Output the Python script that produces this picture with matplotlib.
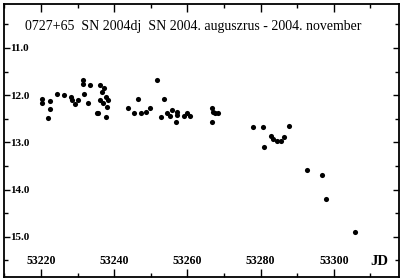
import matplotlib
matplotlib.use('Agg')
import matplotlib.pyplot as plt
from matplotlib.ticker import MultipleLocator, FormatStrFormatter

# Light curve of SN 2004dj
jd = [53220.3, 53220.3, 53222.5, 53222.5, 53221.8, 53224.5, 53226.3,
      53228.2, 53228.5, 53229.3, 53230.1, 53231.5, 53231.5, 53233.4,
      53231.7, 53232.8, 53235.2, 53236.1,
      53236.7, 53237.8, 53236.1, 53238.3, 53236.9, 53238.0, 53235.6,
      53237.8, 53237.2,
      53243.7, 53245.5, 53246.6, 53247.3, 53248.6, 53249.8, 53251.8,
      53253.7, 53252.7, 53254.3, 53255.7, 53255.2, 53257.1, 53257.1,
      53256.9, 53259.2, 53260.0, 53260.7,
      53266.8, 53267.0, 53267.5, 53268.4, 53266.8,
      53277.8, 53280.7, 53287.8, 53280.9, 53282.8, 53283.3, 53284.4,
      53285.5, 53286.4,
      53292.8, 53296.7, 53297.9, 53305.8]
mag = [12.08, 12.16, 12.12, 12.29, 12.48, 11.97, 11.99,
       12.04, 12.10, 12.18, 12.10, 11.68, 11.76, 11.78,
       11.97, 12.16, 12.37, 11.78,
       11.93, 12.04, 12.10, 12.10, 12.16, 12.25, 12.37,
       12.46, 11.85,
       12.27, 12.37, 12.08, 12.37, 12.35, 12.27, 11.68,
       12.08, 12.47, 12.37, 12.31, 12.45, 12.35, 12.43,
       12.56, 12.45, 12.37, 12.45,
       12.27, 12.35, 12.37, 12.38, 12.56,
       12.68, 12.68, 12.65, 13.09, 12.86, 12.93, 12.98,
       12.96, 12.89,
       13.59, 13.69, 14.19, 14.89]

title = '0727+65  SN 2004dj  SN 2004. auguszrus - 2004. november'

plt.rcParams['font.family'] = ['Liberation Serif', 'DejaVu Serif']

fig = plt.figure(figsize=(4.01, 2.80), dpi=100)
ax = fig.add_axes([4 / 401, 3 / 280, 395 / 401, 273 / 280])

ax.plot(jd, mag, 'o', color='black', markersize=3.7, markeredgewidth=0)

ax.set_xlim(53209.9, 53317.8)
ax.set_ylim(15.85, 10.07)

ax.xaxis.set_major_locator(MultipleLocator(20))
ax.xaxis.set_minor_locator(MultipleLocator(10))
ax.yaxis.set_major_locator(MultipleLocator(1))
ax.yaxis.set_minor_locator(MultipleLocator(0.5))
ax.yaxis.set_major_formatter(FormatStrFormatter('%.1f'))

ax.tick_params(axis='both', which='both', direction='in', top=True, right=True,
               width=1.0, color='black')
ax.tick_params(axis='x', which='major', length=6, labelsize=8.5, pad=-7)
ax.tick_params(axis='x', which='minor', length=3)
ax.tick_params(axis='y', which='major', length=4.5, labelsize=8, pad=-4.5)
ax.tick_params(axis='y', which='minor', length=3)

for lbl in ax.get_xticklabels():
    lbl.set_verticalalignment('bottom')
    lbl.set_fontweight('bold')
for lbl in ax.get_yticklabels():
    lbl.set_horizontalalignment('left')
    lbl.set_fontweight('bold')

for sp in ax.spines.values():
    sp.set_linewidth(1.3)

ax.text(0.053, 0.916, title, transform=ax.transAxes, fontsize=10,
        ha='left', va='center')
ax.text(0.949, 0.055, 'JD', transform=ax.transAxes, fontsize=10.5,
        fontweight='bold', ha='center', va='center')

fig.savefig('out.png', dpi=100)
